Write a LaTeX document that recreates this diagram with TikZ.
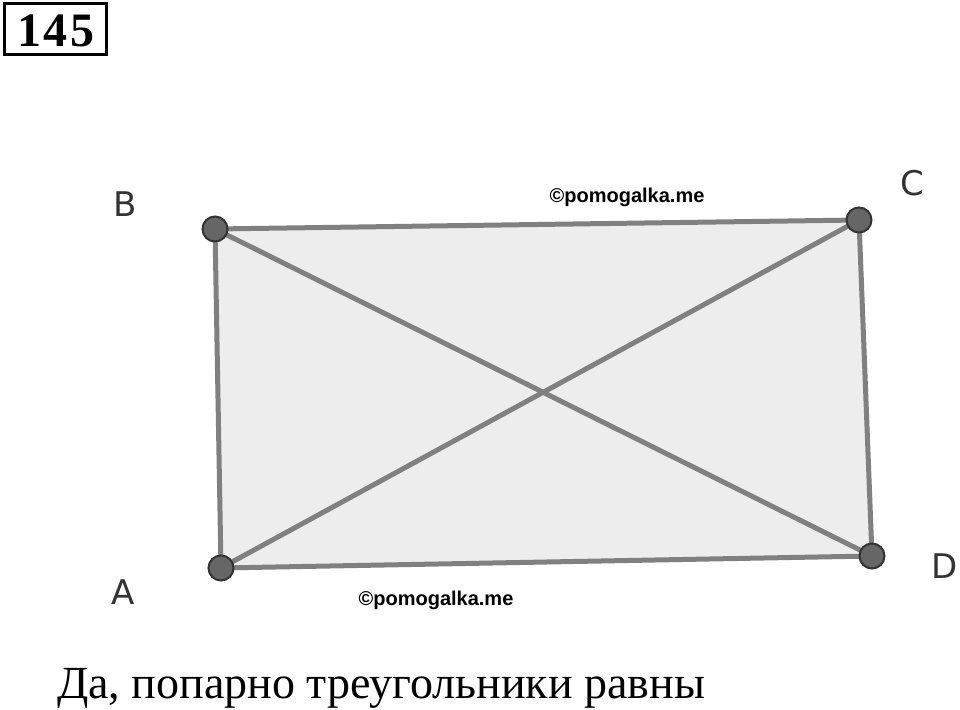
\documentclass[tikz,border=0pt]{standalone}
\usepackage{fontspec}
\setmainfont{Liberation Serif}
\newfontfamily\labelfont{DejaVu Sans}
\newfontfamily\wmfont{Liberation Sans}
\newfontfamily\numfont[LetterSpace=6]{Liberation Serif}
\begin{document}
\begin{tikzpicture}[x=1pt,y=-1pt,
  edge/.style={draw=black!50,line width=5pt},
  pt/.style={circle,fill=black!60,draw=black!80,line width=2pt,minimum size=25pt,inner sep=0pt},
  lbl/.style={font=\labelfont\fontsize{34}{34}\selectfont,text=black!80,inner sep=0pt},
  wm/.style={font=\wmfont\bfseries\fontsize{20}{20}\selectfont,inner sep=0pt},
]
\useasboundingbox (0,0) rectangle (960,709);
\node[draw,line width=3pt,inner sep=0pt,minimum width=102pt,minimum height=51pt] (box) at (55,29) {};
\node[font=\numfont\bfseries\fontsize{48}{48}\selectfont,inner sep=0pt] (num) at (56,31) {145};
\coordinate (A) at (221,568);
\coordinate (B) at (215,229);
\coordinate (C) at (859,220);
\coordinate (D) at (872,556);
\fill[black!7] (A) -- (B) -- (C) -- (D) -- cycle;
\draw[edge] (A) -- (B) -- (C) -- (D) -- cycle;
\draw[edge] (A) -- (C);
\draw[edge] (B) -- (D);
\node[pt] (pA) at (A) {};
\node[pt] (pB) at (B) {};
\node[pt] (pC) at (C) {};
\node[pt] (pD) at (D) {};
\node[lbl] (lA) at (123,592) {A};
\node[lbl] (lB) at (125,204) {B};
\node[lbl] (lC) at (912,183) {C};
\node[lbl] (lD) at (945,566) {D};
\node[wm] (w1) at (627,197) {©pomogalka.me};
\node[wm] (w2) at (436,600) {©pomogalka.me};
\node[anchor=base west,inner sep=0pt,font=\fontsize{46}{46}\selectfont] (txt) at (57,698) {Да, попарно треугольники равны};
\end{tikzpicture}
\end{document}
